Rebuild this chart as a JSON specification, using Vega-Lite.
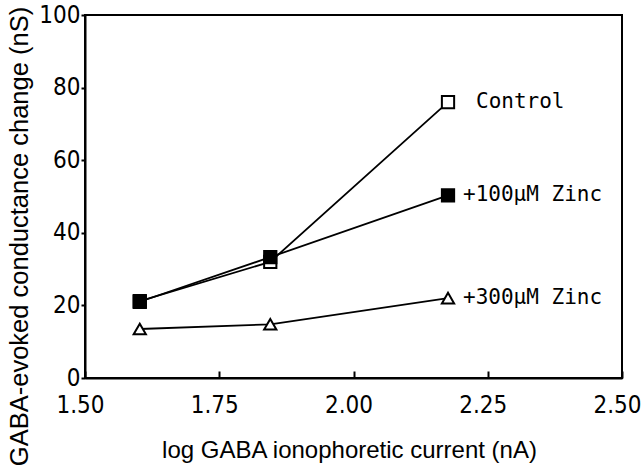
{
  "$schema": "https://vega.github.io/schema/vega-lite/v6.json",
  "width": 537,
  "height": 363,
  "autosize": {"type": "none"},
  "padding": {"left": 85, "top": 15, "right": 20, "bottom": 91},
  "background": "white",
  "config": {
    "view": {"stroke": "black", "strokeWidth": 2},
    "axis": {
      "domainColor": "black", "domainWidth": 2, "tickColor": "black", "tickWidth": 2,
      "grid": false, "labelFlush": false,
      "labelFont": "DejaVu Sans Condensed, sans-serif",
      "labelFontSize": 24, "labelColor": "black",
      "titleFont": "Liberation Sans, Arial, sans-serif", "titleFontSize": 24,
      "titleFontWeight": "normal", "titleColor": "black"
    }
  },
  "data": {"values": [
    {"series": "Control", "x": 1.602, "y": 21.2},
    {"series": "Control", "x": 1.845, "y": 32},
    {"series": "Control", "x": 2.176, "y": 76},
    {"series": "+100µM Zinc", "x": 1.602, "y": 21},
    {"series": "+100µM Zinc", "x": 1.845, "y": 33.3},
    {"series": "+100µM Zinc", "x": 2.176, "y": 50.3},
    {"series": "+300µM Zinc", "x": 1.602, "y": 13.5},
    {"series": "+300µM Zinc", "x": 1.845, "y": 14.8},
    {"series": "+300µM Zinc", "x": 2.176, "y": 22}
  ]},
  "encoding": {
    "x": {
      "field": "x", "type": "quantitative",
      "scale": {"domain": [1.5, 2.5], "nice": false, "zero": false},
      "axis": {
        "title": "log GABA ionophoretic current (nA)",
        "values": [1.5, 1.75, 2.0, 2.25, 2.5], "format": ".2f",
        "tickSize": -7, "labelPadding": 22, "labelBaseline": "top", "labelOffset": -5,
        "titleX": 264, "titleY": 79, "titleBaseline": "alphabetic"
      }
    },
    "y": {
      "field": "y", "type": "quantitative",
      "scale": {"domain": [0, 100], "nice": false},
      "axis": {
        "title": "GABA-evoked conductance change (nS)",
        "values": [0, 20, 40, 60, 80, 100],
        "tickSize": 4, "labelPadding": 1,
        "titleFontSize": 25.5,
        "titleX": -53, "titleY": 221, "titleAngle": -90, "titleBaseline": "bottom"
      }
    }
  },
  "layer": [
    {
      "mark": {"type": "line", "color": "black", "strokeWidth": 1.8},
      "encoding": {"detail": {"field": "series"}}
    },
    {
      "mark": {"type": "point", "stroke": "black", "strokeWidth": 2, "opacity": 1, "filled": false},
      "encoding": {
        "shape": {"field": "series", "type": "nominal",
          "scale": {"domain": ["Control", "+100µM Zinc", "+300µM Zinc"], "range": ["square", "square", "triangle-up"]},
          "legend": null},
        "fill": {"field": "series", "type": "nominal",
          "scale": {"domain": ["Control", "+100µM Zinc", "+300µM Zinc"], "range": ["white", "black", "white"]},
          "legend": null},
        "size": {"value": 150}
      }
    },
    {
      "transform": [{"filter": "datum.x > 2.1 && datum.series == 'Control'"}],
      "mark": {"type": "text", "align": "left", "baseline": "middle", "dx": 28,
        "font": "DejaVu Sans Mono", "fontSize": 21, "color": "black"},
      "encoding": {"text": {"field": "series"}}
    },
    {
      "transform": [{"filter": "datum.x > 2.1 && datum.series != 'Control'"}],
      "mark": {"type": "text", "align": "left", "baseline": "middle", "dx": 15,
        "font": "DejaVu Sans Mono", "fontSize": 21, "color": "black"},
      "encoding": {"text": {"field": "series"}}
    }
  ]
}
